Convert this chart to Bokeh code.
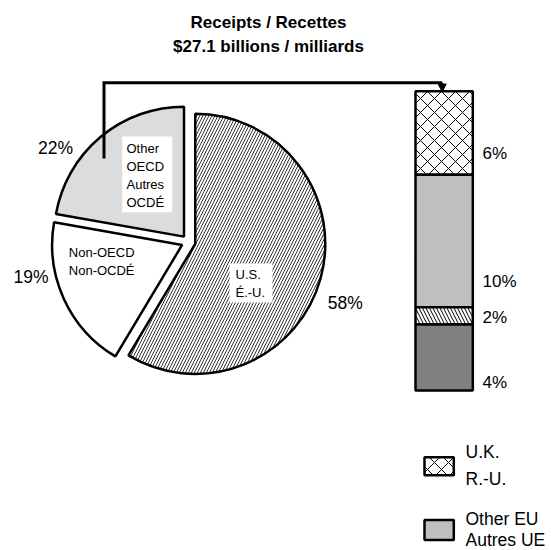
import math
from bokeh.plotting import figure
from bokeh.models import Range1d, Arrow, NormalHead
from bokeh.core.properties import value
from bokeh.embed import file_html
from bokeh.resources import INLINE

# ---------------- data ----------------
title_lines = ["Receipts / Recettes", "$27.1 billions / milliards"]

pie_categories = ["U.S.|É.-U.", "Non-OECD|Non-OCDÉ", "Other|OECD|Autres|OCDÉ"]
pie_values = [58, 19, 22]
pie_pct_labels = ["58%", "19%", "22%"]

# stacked bar (breakdown of Other OECD), top to bottom
bar_segments = ["U.K. / R.-U.", "Other EU / Autres UE", "Segment 3", "Segment 4"]
bar_values = [6.15, 9.73, 1.27, 4.85]
bar_pct_labels = ["6%", "10%", "2%", "4%"]

legend_labels = ["U.K.|R.-U.", "Other EU|Autres UE"]

# ---------------- layout / style ----------------
FONT = value("Liberation Sans")
W, H = 551, 550


def Y(v):
    return 550 - v


p = figure(width=W, height=H, x_range=Range1d(0, 551), y_range=Range1d(0, 550),
           output_backend="svg", toolbar_location=None, min_border=0)
p.axis.visible = False
p.grid.visible = False
p.outline_line_color = None
p.background_fill_color = "white"
p.border_fill_color = "white"

# title
p.text(x=[268, 268], y=[Y(21.7), Y(45.7)], text=title_lines, text_font=FONT,
       text_font_size="17px", text_font_style="bold", text_align="center",
       text_baseline="middle", text_color="black")

# pie
pie_styles = [
    dict(fill_color="white", hatch_pattern="/", hatch_scale=6, hatch_weight=0.8, hatch_color="black"),
    dict(fill_color="white"),
    dict(fill_color="#dcdcdc"),
]
cx, cy, r, explode = 188, Y(241.5), 130, 7
total = sum(pie_values)
cum = 0
for v, st in zip(pie_values, pie_styles):
    t1 = cum / total * 2 * math.pi
    t2 = (cum + v) / total * 2 * math.pi
    mid = (t1 + t2) / 2
    ox = cx + explode * math.sin(mid)
    oy = cy + explode * math.cos(mid)
    p.wedge(x=ox, y=oy, radius=r, start_angle=math.pi / 2 - t2, end_angle=math.pi / 2 - t1,
            line_color="black", line_width=2.5, **st)
    cum += v

# connector from Other OECD slice to the bar
p.line(x=[103.5, 103.5, 441.7], y=[Y(158), Y(82.3), Y(82.3)], line_color="black",
       line_width=3, line_join="miter")
p.add_layout(Arrow(end=NormalHead(size=8, fill_color="black", line_color="black", line_width=1),
                   x_start=441.7, y_start=Y(82.3), x_end=441.7, y_end=Y(91.5),
                   line_color="black", line_width=2))

# inner category labels (with white boxes where on coloured slices)
p.quad(left=[121.7, 229], right=[171.7, 272], top=[Y(136), Y(263)], bottom=[Y(211.7), Y(302)],
       fill_color="white", line_color=None)
label_anchor = [(235, 274), (68.3, 252.3), (126, 148)]
for cat, (lx, ly) in zip(pie_categories, label_anchor):
    lines = cat.split("|")
    p.text(x=[lx] * len(lines), y=[Y(ly + 18 * i) for i in range(len(lines))], text=lines,
           text_font=FONT, text_font_size="13px", text_baseline="middle", text_align="left",
           text_color="black")

# percentage labels
pct_pos = [(344.7, 302.5), (30.5, 276.7), (55, 147)]
p.text(x=[a for a, b in pct_pos], y=[Y(b) for a, b in pct_pos], text=pie_pct_labels,
       text_font=FONT, text_font_size="17.5px", text_align="center", text_baseline="middle",
       text_color="black")

# stacked bar
bar_styles = [
    dict(fill_color="white", hatch_pattern="x", hatch_scale=14, hatch_weight=1, hatch_color="black"),
    dict(fill_color="#bfbfbf"),
    dict(fill_color="white", hatch_pattern="\\", hatch_scale=7, hatch_weight=1, hatch_color="black"),
    dict(fill_color="#808080"),
]
bar_left, bar_right, bar_top_img, bar_bottom_img = 415, 472.3, 90.7, 390
px_per = (bar_bottom_img - bar_top_img) / sum(bar_values)
label_offsets = [21.6, 26, 6.7, 8]
top = Y(bar_top_img)
for v, st, lab, off in zip(bar_values, bar_styles, bar_pct_labels, label_offsets):
    bottom = top - v * px_per
    p.quad(left=bar_left, right=bar_right, top=top, bottom=bottom, line_color="black",
           line_width=2.5, **st)
    p.text(x=[482], y=[bottom + off], text=[lab], text_font=FONT, text_font_size="17px",
           text_align="left", text_baseline="middle", text_color="black")
    top = bottom

# legend
legend_styles = [bar_styles[0], bar_styles[1]]
legend_swatch = [(456.7, 18), (519.5, 20)]
legend_text_y = [(451, 478), (518.5, 539.5)]
for lab, st, (sy, sh), tys in zip(legend_labels, legend_styles, legend_swatch, legend_text_y):
    p.quad(left=424, right=453.3, top=Y(sy), bottom=Y(sy + sh), line_color="black",
           line_width=2.5, **st)
    lines = lab.split("|")
    p.text(x=[465] * len(lines), y=[Y(t) for t in tys], text=lines,
           text_font=FONT, text_font_size="17.5px", text_align="left", text_baseline="middle",
           text_color="black")

open("out.html", "w").write(file_html(p, INLINE))
